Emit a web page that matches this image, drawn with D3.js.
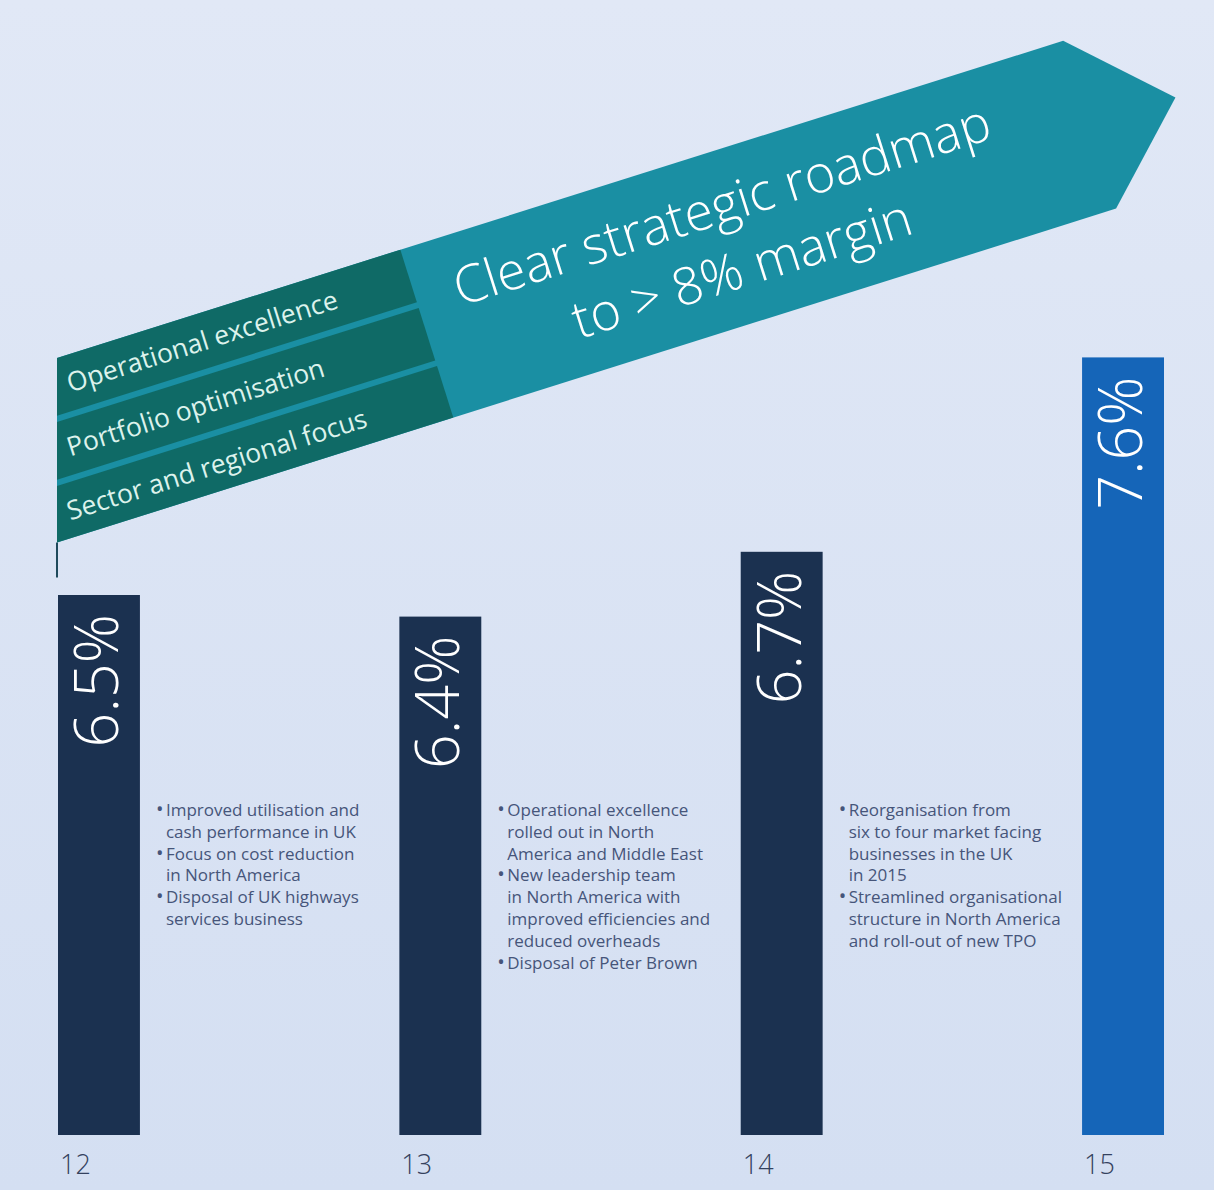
<!DOCTYPE html>
<html>
<head>
<meta charset="utf-8">
<script src="https://cdn.jsdelivr.net/npm/d3@7"></script>
<style>
  body { margin: 0; background: #d8e3f3; }
  svg { display: block; font-family: "Open Sans", "DejaVu Sans", sans-serif; }
</style>
</head>
<body>
<div id="chart"></div>
<script>
// chart data
const years = ["12", "13", "14", "15"];
const margins = [6.5, 6.4, 6.7, 7.6];
const pillars = ["Operational excellence", "Portfolio optimisation", "Sector and regional focus"];
const goalLines = ["Clear strategic roadmap", "to > 8% margin"];

// bullet notes next to each bar, one array of lines per bullet
const notes12 = [
  ["Improved utilisation and", "cash performance in UK"],
  ["Focus on cost reduction", "in North America"],
  ["Disposal of UK highways", "services business"]
];
const notes13 = [
  ["Operational excellence", "rolled out in North", "America and Middle East"],
  ["New leadership team", "in North America with", "improved efficiencies and", "reduced overheads"],
  ["Disposal of Peter Brown"]
];
const notes14 = [
  ["Reorganisation from", "six to four market facing", "businesses in the UK", "in 2015"],
  ["Streamlined organisational", "structure in North America", "and roll-out of new TPO"]
];
const notes = [notes12, notes13, notes14, []];

const data = years.map((y, i) => ({ year: y, value: margins[i], notes: notes[i] }));

let width = 1214,
    height = 1190;

let svg = d3.select('#chart')
  .append('svg')
  .attr('width', width)
  .attr('height', height);

// soft paper background
const grad = svg.append('defs').append('linearGradient')
  .attr('id', 'bg').attr('x1', 0).attr('y1', 0).attr('x2', 0).attr('y2', 1);
grad.append('stop').attr('offset', '0%').attr('stop-color', '#e1e8f6');
grad.append('stop').attr('offset', '100%').attr('stop-color', '#d4dff2');
svg.append('rect').attr('width', width).attr('height', height).attr('fill', 'url(#bg)');

// scales
let xScale = d3.scaleBand()
  .domain(years)
  .range([58, 1164])
  .paddingInner(0.76)
  .paddingOuter(0);

let yScale = d3.scaleLinear()
  .domain([4, 8])
  .range([1135, 271]);

// bars
svg.selectAll('.bar')
  .data(data)
  .enter()
  .append('rect')
  .attr('class', 'bar')
  .attr('x', d => xScale(d.year))
  .attr('y', d => yScale(d.value))
  .attr('width', xScale.bandwidth())
  .attr('height', d => yScale(4) - yScale(d.value))
  .attr('fill', (d, i) => i === data.length - 1 ? '#1565b8' : '#1b3150');

// value labels, rotated inside the bars
svg.selectAll('.val')
  .data(data)
  .enter()
  .append('text')
  .attr('class', 'val')
  .attr('transform', d => `translate(${xScale(d.year) + 60},${yScale(d.value) + 19}) rotate(-90)`)
  .attr('text-anchor', 'end')
  .attr('fill', '#ffffff')
  .style('font-size', '61px')
  .style('font-weight', 300)
  .text(d => d3.format('.1f')(d.value) + '%');

// year axis
let xAxis = svg.append('g')
  .attr('transform', `translate(0,${yScale(4)})`)
  .call(d3.axisBottom(xScale).tickSize(0).tickPadding(0));
xAxis.select('.domain').remove();
xAxis.selectAll('text')
  .attr('x', -xScale.bandwidth() / 2 + 2)
  .attr('y', 39)
  .attr('dy', null)
  .attr('text-anchor', 'start')
  .attr('fill', '#34425e')
  .style('font-family', '"Open Sans", sans-serif')
  .style('font-size', '27px')
  .style('font-weight', 300);

// bullet notes
const lineH = 21.8;
data.forEach(d => {
  let g = svg.append('g')
    .attr('transform', `translate(${xScale(d.year) + xScale.bandwidth() + 16},816)`);
  let row = 0;
  d.notes.forEach(bullet => {
    bullet.forEach((line, j) => {
      if (j === 0) {
        g.append('text')
          .attr('x', 0)
          .attr('y', row * lineH)
          .attr('fill', '#46557a')
          .style('font-size', '20px')
          .text('•');
      }
      g.append('text')
        .attr('x', 10)
        .attr('y', row * lineH)
        .attr('fill', '#46557a')
        .style('font-size', '17px')
        .text(line);
      row++;
    });
  });
});

// strategy banner (flag + arrow), drawn in its own rotated frame
const angle = 17.5;
const rad = angle * Math.PI / 180;
const k = Math.tan(rad);
const bandH = 176;
const splitX = 360;
const headX = 1055;
const tipX = 1145;

let banner = svg.append('g')
  .attr('transform', `translate(57,358) rotate(${-angle})`);

// flag pole below the band
banner.append('line')
  .attr('x1', -bandH * k).attr('y1', bandH)
  .attr('x2', -bandH * k - 35 * Math.sin(rad))
  .attr('y2', bandH + 35 * Math.cos(rad))
  .attr('stroke', '#1f4a5c')
  .attr('stroke-width', 2);

// teal arrow
banner.append('path')
  .attr('d', d3.line()([
    [0, 0], [headX, 0], [tipX, bandH / 2], [headX, bandH], [-bandH * k, bandH]
  ]) + 'Z')
  .attr('fill', '#1a8fa3');

// three green rows for the pillars
const rowTops = [0, 61, 122];
const rowBots = [55, 116, 176];
pillars.forEach((p, i) => {
  let t0 = rowTops[i], t1 = rowBots[i];
  banner.append('path')
    .attr('d', d3.line()([[-t0 * k, t0], [splitX, t0], [splitX, t1], [-t1 * k, t1]]) + 'Z')
    .attr('fill', '#0f6a66');
  let base = t0 + 37;
  banner.append('text')
    .attr('x', -base * k + 14)
    .attr('y', base)
    .attr('fill', '#dcf2ec')
    .style('font-size', '26.5px')
    .text(p);
});

// goal text in the arrow
banner.selectAll('.goal')
  .data(goalLines)
  .enter()
  .append('text')
  .attr('class', 'goal')
  .attr('x', 680)
  .attr('y', (d, i) => 72 + i * 67)
  .attr('text-anchor', 'middle')
  .attr('fill', '#ffffff')
  .style('font-size', '52px')
  .style('font-weight', 300)
  .text(d => d);
</script>
</body>
</html>
